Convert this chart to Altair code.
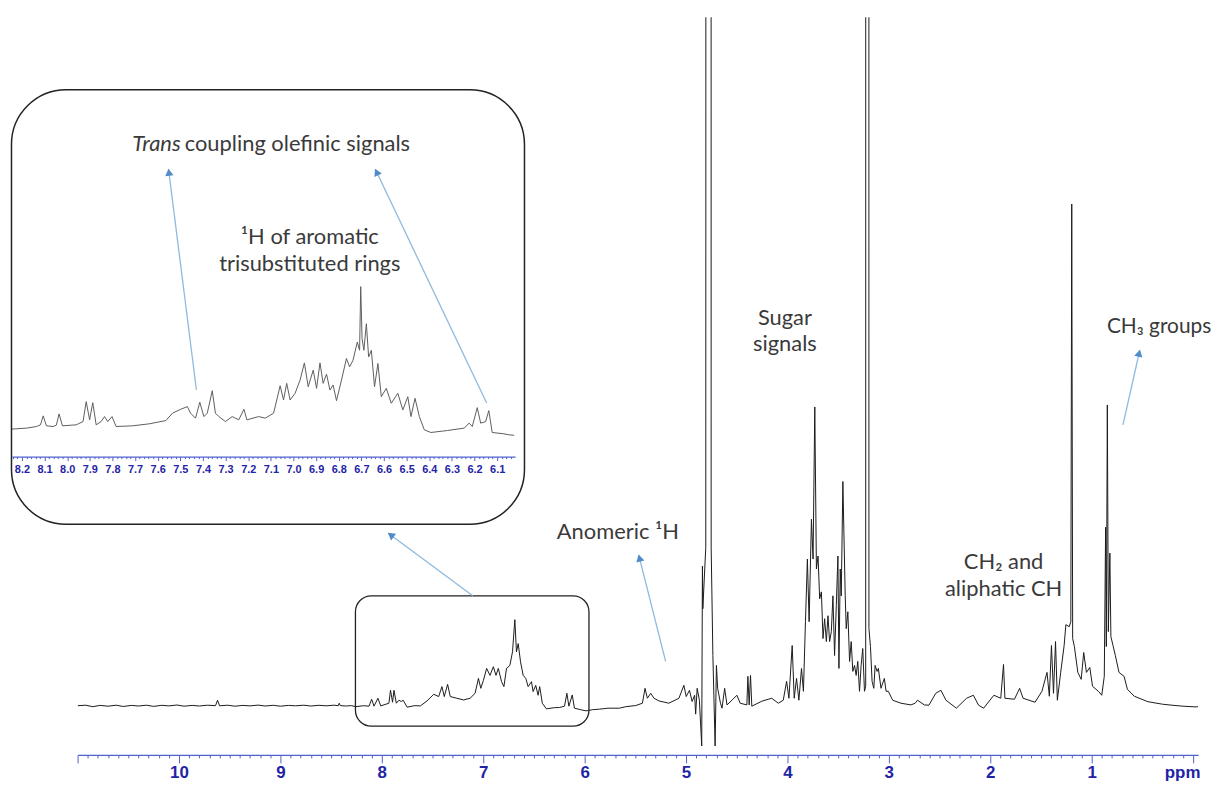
import math
import altair as alt
import pandas as pd

# ---------------- data ----------------
# main 1H NMR trace: chemical shift (ppm) and intensity (arbitrary units, baseline = 0)
main_ppm = [
    11.00, 10.92, 10.85, 10.78, 10.70, 10.62, 10.55, 10.47, 10.40, 10.32, 10.25, 10.17, 10.10, 10.02,
    9.95, 9.87, 9.80, 9.72, 9.64, 9.62, 9.60, 9.52, 9.45, 9.37, 9.30, 9.22, 9.15, 9.07, 9.00,
    8.92, 8.85, 8.77, 8.70, 8.62, 8.55, 8.47, 8.43, 8.42, 8.41, 8.35, 8.30, 8.257, 8.18, 8.126,
    8.10, 8.077, 8.038, 8.011, 7.93, 7.914, 7.894, 7.88, 7.857, 7.831, 7.808, 7.789, 7.75, 7.68,
    7.619, 7.554, 7.488, 7.439, 7.407, 7.384, 7.351, 7.325, 7.26, 7.194, 7.129, 7.08, 7.047, 7.024,
    6.998, 6.966, 6.933, 6.90, 6.874, 6.851, 6.819, 6.796, 6.77, 6.737, 6.711, 6.688, 6.672, 6.655,
    6.632, 6.606, 6.58, 6.557, 6.524, 6.508, 6.482, 6.459, 6.443, 6.417, 6.377, 6.30, 6.247, 6.198,
    6.175, 6.155, 6.122, 6.10, 6.04, 5.985, 5.92, 5.855, 5.77, 5.658, 5.594, 5.495, 5.43, 5.404,
    5.381, 5.348, 5.316, 5.267, 5.169, 5.07, 5.021, 4.998, 4.966, 4.94, 4.915, 4.905, 4.89, 4.868,
    4.845, 4.838, 4.834, 4.805, 4.772, 4.752, 4.735, 4.713, 4.70, 4.688, 4.66, 4.645, 4.619, 4.596,
    4.547, 4.498, 4.466, 4.40, 4.39, 4.377, 4.364, 4.351, 4.253, 4.155, 4.09, 4.041, 4.008, 3.985,
    3.953, 3.933, 3.91, 3.887, 3.861, 3.842, 3.822, 3.803, 3.786, 3.763, 3.747, 3.73, 3.714, 3.698,
    3.682, 3.665, 3.649, 3.633, 3.616, 3.60, 3.584, 3.567, 3.551, 3.535, 3.518, 3.502, 3.492, 3.479,
    3.469, 3.453, 3.443, 3.43, 3.42, 3.404, 3.387, 3.371, 3.355, 3.338, 3.322, 3.306, 3.289, 3.273,
    3.257, 3.24, 3.228, 3.212, 3.196, 3.181, 3.165, 3.148, 3.135, 3.116, 3.103, 3.077, 3.044, 3.027,
    3.005, 2.962, 2.88, 2.782, 2.74, 2.717, 2.65, 2.605, 2.537, 2.486, 2.436, 2.334, 2.233, 2.166,
    2.115, 2.065, 1.964, 1.896, 1.869, 1.855, 1.761, 1.71, 1.676, 1.558, 1.49, 1.44, 1.417, 1.396,
    1.376, 1.356, 1.338, 1.305, 1.271, 1.254, 1.221, 1.205, 1.196, 1.187, 1.17, 1.136, 1.103, 1.078,
    1.051, 1.018, 0.991, 0.933, 0.90, 0.875, 0.862, 0.855, 0.845, 0.835, 0.82, 0.81, 0.789, 0.766,
    0.73, 0.68, 0.647, 0.579, 0.444, 0.30, 0.208, 0.10, -0.03, -0.05,
]
main_int = [
    0.5, 1.0, -0.5, 0.8, 0.0, 1.0, -0.3, 0.8, 0.2, 1.0, -0.2, 0.9, 0.3, 1.2,
    0.0, 0.8, 0.2, 1.0, 0.5, 6.0, 0.4, 1.0, 0.0, 0.8, 0.3, 1.1, 0.2, 0.9, 0.0,
    0.8, 0.4, 1.0, 0.2, 0.9, 0.4, 1.0, 0.5, 3.0, 0.6, 0.2, 0.6, -0.5, 0.5, 0.0,
    7.0, 0.0, 8.0, 0.3, 3.0, 16.0, 4.0, 16.0, 3.0, 6.0, 4.7, 6.0, -1.0, 0.5,
    0.3, 5.3, 12.0, 9.7, 19.7, 9.7, 22.0, 9.7, 8.0, 6.3, 8.0, 13.0, 28.0, 18.0,
    26.0, 38.0, 31.0, 39.7, 31.0, 38.0, 24.7, 19.7, 38.0, 41.0, 54.7, 87.0, 54.7, 63.0,
    44.7, 31.0, 28.0, 19.7, 24.7, 14.7, 21.0, 11.0, 19.7, 3.0, -2.7, -1.5, -1.3, 0.0,
    13.0, 0.0, 11.3, -2.0, -3.5, -4.7, -3.5, -3.0, -2.0, -2.0, -0.5, 0.7, 3.0, 18.0,
    8.0, 13.0, 8.0, 5.3, 3.0, 8.0, 21.0, 9.7, 16.0, 4.7, 11.0, -8.0, 18.0, 6.0,
    -40.0, 141.0, 98.0, 160.0, 30000.0, 160.0, 51.0, -40.0, 41.0, 18.0, 3.0, -2.0, 18.0, 1.3,
    6.0, 11.0, 3.0, 1.3, 30.0, 1.3, 31.0, 0.0, 5.0, 8.0, 3.0, 6.0, 25.0, 8.0,
    61.0, 8.0, 28.0, 6.0, 38.0, 15.0, 85.0, 148.0, 85.0, 188.0, 148.0, 301.0, 138.0, 151.0,
    108.0, 115.0, 68.0, 88.0, 65.0, 91.0, 65.0, 75.0, 111.0, 51.0, 101.0, 151.0, 38.0, 138.0,
    111.0, 226.0, 175.0, 111.0, 78.0, 95.0, 45.0, 65.0, 35.0, 41.0, 31.0, 45.0, 15.0, 41.0,
    58.0, 15.0, 20.0, 30000.0, 78.0, 60.0, 25.0, 18.0, 41.0, 35.0, 38.0, 18.0, 28.0, 15.0,
    15.0, 6.0, 3.0, 1.3, 3.0, 6.0, 1.3, 1.0, 13.0, 16.0, 6.0, -2.0, 8.0, 11.0,
    1.0, -2.0, 11.0, 8.0, 42.0, 8.0, 7.0, 18.0, 8.0, 4.0, 15.0, 34.0, 10.0, 61.0,
    13.0, 65.0, 6.0, 34.0, 61.0, 82.0, 80.0, 85.0, 505.0, 68.0, 60.0, 34.0, 27.0, 54.0,
    34.0, 39.0, 20.0, 15.0, 11.0, 30.0, 180.0, 60.0, 303.0, 75.0, 154.0, 70.0, 61.0, 51.0,
    34.0, 30.0, 17.0, 10.0, 4.5, 2.0, 1.0, 0.0, -0.7, -0.5,
]

# expanded aromatic region shown in the inset (8.2 - 6.1 ppm)
inset_ppm = [
    8.245, 8.179, 8.136, 8.118, 8.106, 8.092, 8.062, 8.048, 8.036, 8.021, 7.96, 7.93, 7.916, 7.901,
    7.887, 7.872, 7.85, 7.835, 7.821, 7.802, 7.784, 7.711, 7.638, 7.564, 7.535, 7.498, 7.469, 7.455,
    7.433, 7.414, 7.396, 7.381, 7.359, 7.345, 7.33, 7.301, 7.271, 7.242, 7.219, 7.206, 7.154, 7.125,
    7.088, 7.059, 7.044, 7.03, 7.015, 6.993, 6.971, 6.952, 6.935, 6.913, 6.898, 6.883, 6.869, 6.854,
    6.839, 6.825, 6.81, 6.788, 6.766, 6.752, 6.737, 6.718, 6.708, 6.703, 6.697, 6.689, 6.678, 6.668,
    6.656, 6.642, 6.627, 6.612, 6.59, 6.568, 6.539, 6.517, 6.495, 6.481, 6.463, 6.444, 6.422, 6.393,
    6.319, 6.246, 6.224, 6.21, 6.188, 6.173, 6.151, 6.137, 6.122, 6.071, 6.049, 6.025,
]
inset_int = [
    -1.3, -0.3, 1.3, 3.0, 12.0, 2.0, 1.3, 2.7, 14.0, 2.0, 3.0, 6.3, 26.3, 8.0,
    25.3, 3.0, 6.3, 11.3, 6.3, 11.3, 1.3, 2.0, 4.0, 7.3, 14.7, 18.7, 21.3, 14.7,
    9.7, 25.7, 11.3, 14.7, 37.3, 14.7, 11.3, 6.3, 11.3, 8.0, 18.7, 8.0, 11.3, 9.7,
    14.7, 42.3, 28.0, 44.7, 28.0, 34.7, 48.0, 65.3, 41.3, 58.0, 39.7, 65.3, 44.7, 54.0,
    38.0, 43.0, 27.3, 48.0, 69.7, 61.3, 68.0, 86.3, 78.0, 142.0, 89.7, 78.0, 104.7, 71.3,
    78.0, 41.3, 64.7, 31.3, 39.7, 24.7, 34.7, 18.0, 31.3, 11.3, 29.7, 11.3, -2.0, -4.7,
    -2.7, -0.3, 4.7, 1.3, 20.3, 4.7, 6.3, 17.3, -4.7, -6.0, -7.0, -7.5,
]

# axis tick labels
main_tick_labels = [10, 9, 8, 7, 6, 5, 4, 3, 2, 1]
inset_tick_labels = [8.2, 8.1, 8.0, 7.9, 7.8, 7.7, 7.6, 7.5, 7.4, 7.3, 7.2, 7.1,
                     7.0, 6.9, 6.8, 6.7, 6.6, 6.5, 6.4, 6.3, 6.2, 6.1]

# annotation texts (position in ppm / intensity units of the main plot)
note_text = ["Sugar", "signals", "Anomeric \u00b9H", "CH\u2082 and", "aliphatic CH",
             "\u00b9H of aromatic", "trisubstituted rings"]
note_ppm = [4.025, 4.025, 5.672, 1.868, 1.868, 8.71, 8.71]
note_int = [390, 364, 175, 145, 118, 472, 445]

# arrows (tail -> head)
arrow_tail_ppm = [9.828, 6.966, 7.103, 5.201, 0.691]
arrow_tail_int = [318, 305, 111, 45, 283]
arrow_head_ppm = [10.103, 8.064, 7.936, 5.466, 0.525]
arrow_head_int = [540, 540, 174, 152, 358]

# ---------------- layout / style ----------------
W, H = 1127, 742
X_DOMAIN = [11.0, -0.05]
Y_DOMAIN = [-49, 693]
AXIS_BLUE = "#5060d0"
LABEL_BLUE = "#1f24a6"
TEXT_COLOR = "#3a3a3a"
ARROW_LINE = "#8fb9de"
ARROW_HEAD = "#4f8cc8"
FONT = "Lato"
FS = 22

xs = alt.Scale(domain=X_DOMAIN, nice=False, zero=False)
ys = alt.Scale(domain=Y_DOMAIN, nice=False, zero=False)


def X(field):
    return alt.X(field, scale=xs, axis=None)


def Y(field):
    return alt.Y(field, scale=ys, axis=None)


major_test = "abs(datum.value - round(datum.value)) < 0.001"
main_ticks = [round(11.0 - 0.1 * i, 1) for i in range(111)]
label_set = "[" + ",".join(str(v) for v in main_tick_labels) + "]"
main_axis = alt.Axis(
    orient="bottom", values=main_ticks, title=None, grid=False, labelOverlap=False,
    labelExpr=f"({major_test}) && indexof({label_set}, round(datum.value)) >= 0 ? format(datum.value, 'd') : ''",
    tickSize={"condition": {"test": major_test, "value": 8}, "value": 3},
    tickColor=AXIS_BLUE, domainColor=AXIS_BLUE, domainWidth=1.3, tickWidth=1,
    labelColor=LABEL_BLUE, labelFont="Liberation Sans", labelFontWeight="bold",
    labelFontSize=17, labelPadding=2,
)

main_df = pd.DataFrame({"ppm": main_ppm, "inten": main_int, "idx": range(len(main_ppm))})
spectrum = alt.Chart(main_df).mark_line(color="#1b1b1b", strokeWidth=1, clip=True).encode(
    x=alt.X("ppm:Q", scale=xs, axis=main_axis),
    y=Y("inten:Q"),
    order="idx:Q",
)

ppm_label = alt.Chart(pd.DataFrame({"ppm": [0.103], "inten": [-67], "t": ["ppm"]})).mark_text(
    font="Liberation Sans", fontWeight="bold", fontSize=17, color=LABEL_BLUE,
    align="center", baseline="middle").encode(x=X("ppm:Q"), y=Y("inten:Q"), text="t:N")

small_box = alt.Chart(pd.DataFrame({"x1": [8.26], "x2": [5.957], "y1": [111], "y2": [-20]})).mark_rect(
    fillOpacity=0, stroke="#222222", strokeWidth=1.3, cornerRadius=16).encode(
    x=X("x1:Q"), x2="x2:Q", y=Y("y1:Q"), y2="y2:Q")

big_box = alt.Chart(pd.DataFrame({"x1": [11.652], "x2": [6.593], "y1": [620], "y2": [183]})).mark_rect(
    fillOpacity=0, stroke="#222222", strokeWidth=1.5, cornerRadius=55).encode(
    x=X("x1:Q"), x2="x2:Q", y=Y("y1:Q"), y2="y2:Q")

# arrows
k_x = W / (X_DOMAIN[0] - X_DOMAIN[1])
k_y = H / (Y_DOMAIN[1] - Y_DOMAIN[0])
heads = []
for tp, ti, hp, hi in zip(arrow_tail_ppm, arrow_tail_int, arrow_head_ppm, arrow_head_int):
    dx = -(hp - tp) * k_x
    dy = -(hi - ti) * k_y
    ln = math.hypot(dx, dy)
    ux, uy = dx / ln, dy / ln
    ang = (math.degrees(math.atan2(dx, -dy)) + 360) % 360
    heads.append({"ppm": hp + 3 * ux / k_x, "inten": hi + 3 * uy / k_y, "ang": ang})
arrow_df = pd.DataFrame({"tp": arrow_tail_ppm, "ti": arrow_tail_int,
                         "hp": arrow_head_ppm, "hi": arrow_head_int})
arrow_lines = alt.Chart(arrow_df).mark_rule(color=ARROW_LINE, strokeWidth=1.3).encode(
    x=X("tp:Q"), x2="hp:Q", y=Y("ti:Q"), y2="hi:Q")
arrow_heads = alt.Chart(pd.DataFrame(heads)).mark_point(
    shape="triangle-up", filled=True, size=70, color=ARROW_HEAD, opacity=1).encode(
    x=X("ppm:Q"), y=Y("inten:Q"), angle=alt.Angle("ang:Q", scale=None))

notes = alt.Chart(pd.DataFrame({"t": note_text, "ppm": note_ppm, "inten": note_int})).mark_text(
    font=FONT, fontSize=FS, color=TEXT_COLOR, align="center", baseline="middle").encode(
    x=X("ppm:Q"), y=Y("inten:Q"), text="t:N")

ch3_note = alt.Chart(pd.DataFrame({"t": ["CH\u2083 groups"], "ppm": [-0.18], "inten": [381]})).mark_text(
    font=FONT, fontSize=FS - 1, color=TEXT_COLOR, align="right", baseline="middle").encode(
    x=X("ppm:Q"), y=Y("inten:Q"), text="t:N")

trans_it = alt.Chart(pd.DataFrame({"t": ["Trans"], "ppm": [10.46], "inten": [565]})).mark_text(
    font=FONT, fontSize=FS, fontStyle="italic", color=TEXT_COLOR, align="left", baseline="middle").encode(
    x=X("ppm:Q"), y=Y("inten:Q"), text="t:N")
trans_rest = alt.Chart(pd.DataFrame({"t": ["coupling olefinic signals"], "ppm": [7.721], "inten": [565]})).mark_text(
    font=FONT, fontSize=FS, color=TEXT_COLOR, align="right", baseline="middle").encode(
    x=X("ppm:Q"), y=Y("inten:Q"), text="t:N")

# inset
inset_test = "abs(datum.value * 10 - round(datum.value * 10)) < 0.001"
inset_ticks = [round(8.24 - 0.02 * i, 2) for i in range(112)]
inset_axis = alt.Axis(
    orient="bottom", offset=-300, values=inset_ticks, title=None, grid=False, labelOverlap=False,
    labelExpr=f"({inset_test}) ? format(datum.value, '.1f') : ''",
    tickSize={"condition": {"test": inset_test, "value": 4}, "value": 2},
    tickColor=AXIS_BLUE, domainColor=AXIS_BLUE, domainWidth=1.2, tickWidth=1,
    labelColor=LABEL_BLUE, labelFont="Liberation Sans", labelFontWeight="bold",
    labelFontSize=11, labelPadding=3,
)
inset_df = pd.DataFrame({"ppm": inset_ppm, "inten": inset_int, "idx": range(len(inset_ppm))})
inset_line = alt.Chart(inset_df).mark_line(color="#5e5e5e", strokeWidth=1).encode(
    x=alt.X("ppm:Q", scale=alt.Scale(domain=[8.244, 6.021], range=[-66, 440], nice=False, zero=False),
            axis=inset_axis),
    y=alt.Y("inten:Q", scale=alt.Scale(domain=[0, 142], range=[413, 271], nice=False, zero=False),
            axis=None),
    order="idx:Q",
)

chart = alt.layer(
    spectrum, inset_line, ppm_label, small_box, big_box, arrow_lines, arrow_heads,
    notes, ch3_note, trans_it, trans_rest,
).resolve_scale(
    x="independent", y="independent"
).properties(
    width=W, height=H,
    padding={"left": 70, "top": 7, "right": 16, "bottom": 27},
    autosize=alt.AutoSizeParams(type="none"),
    background="white",
).configure_view(strokeWidth=0)

chart.save("out.html", embed_options={"renderer": "svg", "actions": False})
